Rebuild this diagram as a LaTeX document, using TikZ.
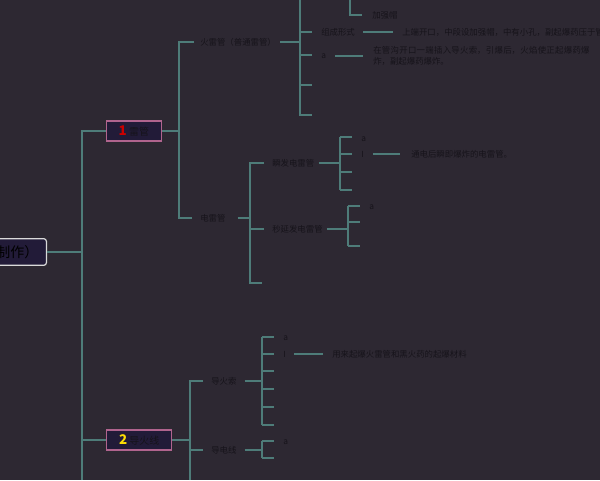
\documentclass[tikz,border=0pt]{standalone}
\usepackage{fontspec}
\setmainfont{Noto Sans CJK SC}
\XeTeXlinebreaklocale "zh"
\XeTeXlinebreakskip=0pt plus 1pt
\definecolor{bg}{HTML}{2D2832}
\definecolor{edge}{HTML}{4E7C79}
\definecolor{ink}{HTML}{16131A}
\definecolor{boxfill}{HTML}{221B38}
\definecolor{pinkline}{HTML}{B0648E}
\tikzset{
  topic/.style={rectangle, draw=pinkline, line width=0.8pt, fill=boxfill, inner xsep=3pt, inner ysep=1pt, minimum height=15pt, font=\fontsize{7.5}{8}\selectfont, text=ink},
  rootbox/.style={rectangle, draw=white!85!black, line width=0.9pt, fill=boxfill, rounded corners=2pt, minimum height=20pt, inner xsep=6pt, font=\fontsize{10.5}{12}\selectfont, text=black},
  leaf/.style={anchor=west, inner sep=0pt, font=\fontsize{6.3}{8.5}\selectfont, text=ink},
  wire/.style={draw=edge, line width=0.8pt}
}
\begin{document}
\begin{tikzpicture}[x=0.75pt, y=-0.75pt]
  \fill[bg] (0,0) rectangle (600,480);
  \useasboundingbox (0,0) rectangle (600,480);
  % Place nodes
  \node [rootbox, anchor=east] (root) at (47,252) {制作）};
  \node [topic, anchor=west, minimum width=41pt] (lg) at (106,131) {\textcolor{red!80!black}{\fontsize{10}{10}\selectfont\bfseries 1} 雷管};
  \node [topic, anchor=west, minimum width=49pt] (dhx) at (106,440) {\textcolor{yellow!80!orange}{\fontsize{10}{10}\selectfont\bfseries 2} 导火线};
  \node [leaf] (hlg) at (200,42) {火雷管（普通雷管）};
  \node [leaf] (dlg) at (200,218) {电雷管};
  \node [leaf] (zcxs) at (321,32) {组成形式};
  \node [leaf] (zcxsT) at (402,32) {上端开口，中段设加强帽，中有小孔，副起爆药压于管底};
  \node [leaf] (ha) at (321,56) {a};
  \node [leaf, align=left, text width=165pt] (haT) at (373,56) {在管沟开口一端插入导火索，引爆后，火焰使正起爆药爆炸，副起爆药爆炸。};
  \node [leaf] (jqm) at (372,15) {加强帽};
  \node [leaf] (sf) at (272,163) {瞬发电雷管};
  \node [leaf] (myf) at (272,229) {秒延发电雷管};
  \node [leaf] (sfa) at (361,139) {a};
  \node [leaf] (sfi) at (361,154) {I};
  \node [leaf] (sfT) at (411,154) {通电后瞬即爆炸的电雷管。};
  \node [leaf] (myfa) at (369,207) {a};
  \node [leaf] (dhs) at (211,381) {导火索};
  \node [leaf] (ddx) at (211,450) {导电线};
  \node [leaf] (dhsa) at (283,338) {a};
  \node [leaf] (dhsi) at (283,354) {I};
  \node [leaf] (dhsT) at (332,354) {用来起爆火雷管和黑火药的起爆材料};
  \node [leaf] (ddxa) at (283,442) {a};
  % Draw edges
  \path [wire] (root.east) -- (82,252);
  \path [wire] (82,480) -- (82,131) -- (lg.west);
  \path [wire] (82,440) -- (dhx.west);
  \path [wire] (lg.east) -- (179,131);
  \path [wire] (hlg.west) ++(-6,0) -- (179,42) -- (179,218) -- ([xshift=-6pt]dlg.west);
  \path [wire] (hlg.east) ++(4,0) -- (300,42);
  \path [wire] (300,0) -- (300,115) -- (312,115);
  \foreach \y in {32,55,85} \path [wire] (300,\y) -- (312,\y);
  \path [wire] (350,0) -- (350,15) -- (362,15);
  \path [wire] (zcxs.east) ++(8,0) -- (393,32);
  \path [wire] (335,56) -- (363,56);
  \path [wire] (dlg.east) ++(12,0) -- (250,218);
  \path [wire] ([xshift=-6pt]sf.west) -- (250,163) -- (250,283) -- (262,283);
  \path [wire] (250,229) -- ([xshift=-6pt]myf.west);
  \path [wire] (sf.east) ++(4,0) -- (340,163);
  \path [wire] (340,137) -- (340,190);
  \foreach \y in {137,154,172,190} \path [wire] (340,\y) -- (352,\y);
  \path [wire] (sfi.east) ++(9,0) -- (400,154);
  \path [wire] (myf.east) ++(4,0) -- (348,229);
  \path [wire] (348,206) -- (348,246);
  \foreach \y in {206,222,246} \path [wire] (348,\y) -- (360,\y);
  \path [wire] (dhx.east) -- (190,440);
  \path [wire] (190,480) -- (190,381) -- ([xshift=-6pt]dhs.west);
  \path [wire] (190,450) -- ([xshift=-6pt]ddx.west);
  \path [wire] (dhs.east) ++(8,0) -- (262,381);
  \path [wire] (262,337) -- (262,425);
  \foreach \y in {337,354,371,389,407,425} \path [wire] (262,\y) -- (274,\y);
  \path [wire] (294,354) -- (323,354);
  \path [wire] (ddx.east) ++(8,0) -- (262,450);
  \path [wire] (262,441) -- (262,458);
  \foreach \y in {441,458} \path [wire] (262,\y) -- (274,\y);
\end{tikzpicture}
\end{document}
